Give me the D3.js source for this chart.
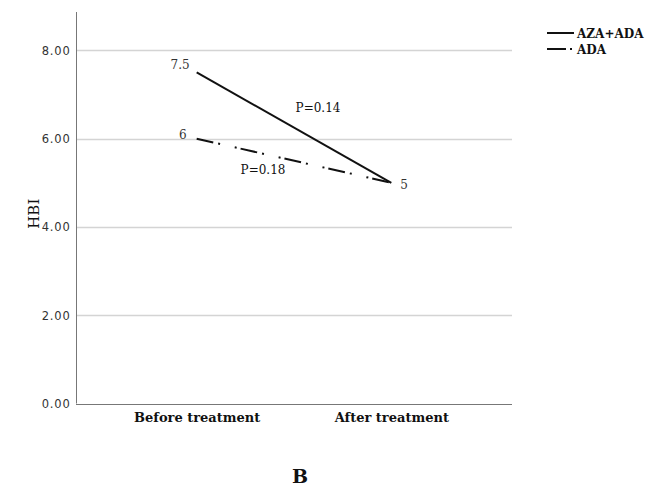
<!DOCTYPE html>
<html>
<head>
<meta charset="utf-8">
<script src="https://cdn.jsdelivr.net/npm/d3@7"></script>
<style>
	body { margin: 0; background: #fff; }
	svg text { fill: #111; }
</style>
</head>
<body>
<svg id="chart"></svg>
<script>
const categories = ['Before treatment', 'After treatment'];
const azaAda = [7.5, 5];
const ada = [6, 5];
const yTicks = [0, 2, 4, 6, 8];
const pLabels = ['P=0.14', 'P=0.18'];

const width = 655;
const height = 487;
const margin = { left: 76, right: 143, top: 12, bottom: 84 };
const serif = '"DejaVu Serif", "Liberation Serif", serif';

const svg = d3.select('#chart')
	.attr('width', width)
	.attr('height', height);

const xScale = d3.scalePoint()
	.domain(categories)
	.range([margin.left, width - margin.right])
	.padding(0.62);

const yScale = d3.scaleLinear()
	.domain([0, 8.87])
	.range([height - margin.bottom + 0.5, margin.top]);

// grid lines
svg.append('g')
	.selectAll('line')
	.data(yTicks.filter(d => d > 0))
	.join('line')
	.attr('x1', margin.left)
	.attr('x2', width - margin.right)
	.attr('y1', d => Math.round(yScale(d)) + 0.5)
	.attr('y2', d => Math.round(yScale(d)) + 0.5)
	.attr('stroke', '#d4d4d4')
	.attr('stroke-width', 1.5);

const yAxis = d3.axisLeft(yScale)
	.tickValues(yTicks)
	.tickFormat(d3.format('.2f'))
	.tickSize(0)
	.tickPadding(6);

const yG = svg.append('g')
	.attr('transform', `translate(${margin.left + 0.5}, 0)`)
	.call(yAxis);
yG.select('.domain').attr('stroke', '#777').attr('d', `M0,${margin.top}V${yScale(0)}`);
yG.selectAll('.tick text')
	.attr('dy', '0.35em')
	.style('font-family', '"DejaVu Sans", sans-serif')
	.style('font-size', '11.5px')
	.style('letter-spacing', '0.8px')
	.style('fill', '#333');

const xAxis = d3.axisBottom(xScale).tickSize(0).tickPadding(8);
const xG = svg.append('g')
	.attr('transform', `translate(0, ${Math.round(yScale(0)) + 0.5})`)
	.call(xAxis);
xG.select('.domain').attr('stroke', '#777').attr('d', `M${margin.left},0H${width - margin.right}`);
xG.selectAll('.tick text')
	.style('font-family', serif)
	.style('font-size', '13px')
	.style('font-weight', 'bold')
	.style('fill', '#111');

// y axis title
svg.append('text')
	.attr('transform', `translate(39, ${yScale(4.3)}) rotate(-90)`)
	.attr('text-anchor', 'middle')
	.style('font-family', serif)
	.style('font-size', '15px')
	.text('HBI');

const line = d3.line()
	.x((d, i) => xScale(categories[i]))
	.y(d => yScale(d));

svg.append('path')
	.datum(azaAda)
	.attr('d', line)
	.attr('fill', 'none')
	.attr('stroke', '#111')
	.attr('stroke-width', 2);

svg.append('path')
	.datum(ada)
	.attr('d', line)
	.attr('fill', 'none')
	.attr('stroke', '#111')
	.attr('stroke-width', 2)
	.attr('stroke-dasharray', '17,5,2,15,2,4');

// value labels
const valueLabels = [
	{ v: azaAda[0], x: xScale(categories[0]) - 7, y: yScale(azaAda[0]) - 3, anchor: 'end' },
	{ v: ada[0], x: xScale(categories[0]) - 10, y: yScale(ada[0]) - 0, anchor: 'end' },
	{ v: azaAda[1], x: xScale(categories[1]) + 9, y: yScale(azaAda[1]) + 6, anchor: 'start' }
];
svg.append('g')
	.selectAll('text')
	.data(valueLabels)
	.join('text')
	.attr('x', d => d.x)
	.attr('y', d => d.y)
	.attr('text-anchor', d => d.anchor)
	.style('font-family', serif)
	.style('font-size', '12px')
	.style('fill', '#333')
	.text(d => d.v);

// p-values
const midX = (xScale(categories[0]) + xScale(categories[1])) / 2;
svg.append('text')
	.attr('x', midX + 24)
	.attr('y', yScale(6.6))
	.attr('text-anchor', 'middle')
	.style('font-family', serif)
	.style('font-size', '12px')
	.text(pLabels[0]);
svg.append('text')
	.attr('x', midX - 31)
	.attr('y', yScale(5.2))
	.attr('text-anchor', 'middle')
	.style('font-family', serif)
	.style('font-size', '12px')
	.text(pLabels[1]);

// legend
const legend = svg.append('g').attr('transform', 'translate(547, 33)');
const legendItems = [
	{ name: 'AZA+ADA', dash: null },
	{ name: 'ADA', dash: '19,4,2,30' }
];
legendItems.forEach((item, i) => {
	const row = legend.append('g').attr('transform', `translate(0, ${i * 16})`);
	row.append('line')
		.attr('x1', 0).attr('x2', 27)
		.attr('stroke', '#111')
		.attr('stroke-width', 2)
		.attr('stroke-dasharray', item.dash);
	row.append('text')
		.attr('x', 30)
		.attr('y', 4.5)
		.style('font-family', serif)
		.style('font-size', '12px')
		.style('font-weight', 'bold')
		.text(item.name);
});

// panel letter
svg.append('text')
	.attr('x', 300)
	.attr('y', 483)
	.attr('text-anchor', 'middle')
	.style('font-family', serif)
	.style('font-size', '19px')
	.style('font-weight', 'bold')
	.text('B');
</script>
</body>
</html>
